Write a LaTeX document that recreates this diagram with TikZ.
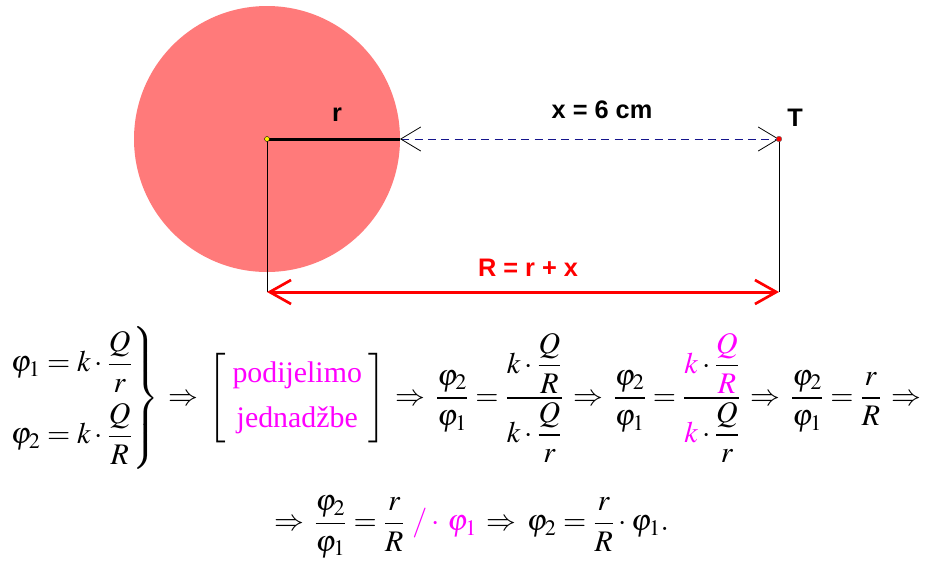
\documentclass[tikz,border=0pt]{standalone}
\usepackage{amsmath}
\usepackage{mathptmx}
\usepackage{fontspec}
\setmainfont{Liberation Serif}
\newfontfamily\lblfont{Liberation Sans}
\usetikzlibrary{arrows.meta}
\definecolor{ballred}{RGB}{255,122,122}
\definecolor{dashblue}{RGB}{20,20,140}
\definecolor{pinkmag}{RGB}{255,0,255}
\newcommand{\mg}[1]{\textcolor{pinkmag}{#1}}
\newcommand{\thn}{\mkern2mu\Rightarrow\mkern2mu}
\begin{document}
\begin{tikzpicture}[
  x=0.75pt, y=-0.75pt,
  lbl/.style={font={\lblfont\bfseries\fontsize{19}{22}\selectfont}},
  eqn/.style={font={\fontsize{22.4}{26}\selectfont}, inner sep=0pt},
  dimline/.style={draw=dashblue, line width=0.75pt, dash pattern=on 6pt off 4pt,
    {Straight Barb[length=15pt, width=18pt, line width=0.6pt, color=black]}-{Straight Barb[length=15pt, width=18pt, line width=0.6pt, color=black]}},
  sumline/.style={draw=red, line width=2.25pt,
    {Straight Barb[length=16pt, width=18pt, line width=2pt]}-{Straight Barb[length=16pt, width=18pt, line width=2pt]}},
  guide/.style={draw=black, line width=0.6pt}
]
\useasboundingbox (0,0) rectangle (928,569);

% charged sphere
\fill[ballred] (267,139) circle (133);
\coordinate (ctr) at (267,139);
\coordinate (rim) at (400,139);
\coordinate (tpt) at (779,139);
\coordinate (lft) at (267,292);
\coordinate (rgt) at (779,292);

\draw[guide] (ctr) -- (lft);
\draw[guide] (tpt) -- (rgt);
\draw[black, line width=2.25pt] (ctr) -- (rim);
\draw[dimline] (rim) -- (tpt);
\draw[sumline] (lft) -- (rgt);

\filldraw[fill=yellow, draw=black, line width=0.3pt] (ctr) circle (2.5);
\filldraw[fill=red, draw=black!60, line width=0.3pt] (tpt) circle (2.8);

\node[lbl] (rlbl) at (337,115) {r};
\node[lbl] (xlbl) at (602,110) {x = 6 cm};
\node[lbl] (tlbl) at (795,118) {T};
\node[lbl, text=red] (sumlbl) at (528,268) {R = r + x};

% equations
\node[eqn] (eqone) at (467,398) {$\displaystyle
  \left.\begin{array}{@{}l@{}}
    \varphi_1 = k\cdot\dfrac{Q}{r}\\[16pt]
    \varphi_2 = k\cdot\dfrac{Q}{R}
  \end{array}\right\}
  \thn
  \left[\begin{array}{c}
    \mg{\text{podijelimo}}\\[8pt]
    \mg{\text{jednadžbe}}
  \end{array}\right]
  \thn
  \dfrac{\varphi_2}{\varphi_1}=\dfrac{k\cdot\dfrac{Q}{R}}{k\cdot\dfrac{Q}{r}}
  \thn
  \dfrac{\varphi_2}{\varphi_1}=\dfrac{\mg{k}\cdot\dfrac{\mg{Q}}{\mg{R}}}{\mg{k}\cdot\dfrac{Q}{r}}
  \thn
  \dfrac{\varphi_2}{\varphi_1}=\dfrac{r}{R}
  \thn$};
\node[eqn] (eqtwo) at (470,527) {$\displaystyle
  \thn
  \dfrac{\varphi_2}{\varphi_1}=\dfrac{r}{R}\ \mg{/\cdot\,\varphi_1}
  \thn
  \varphi_2=\dfrac{r}{R}\cdot\varphi_1.$};
\end{tikzpicture}
\end{document}
